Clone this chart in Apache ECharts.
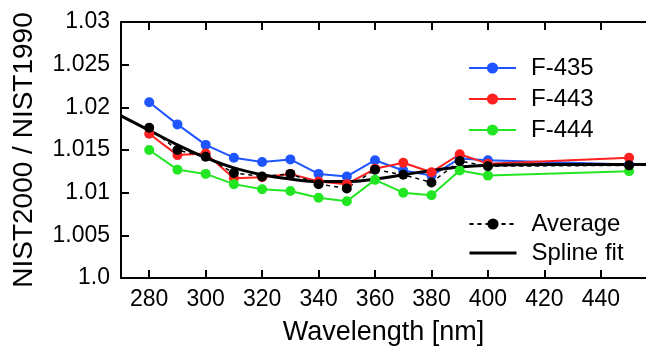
<!DOCTYPE html>
<html><head><meta charset="utf-8">
<script src="https://cdn.jsdelivr.net/npm/echarts@6/dist/echarts.min.js"></script>
<style>html,body{margin:0;padding:0;background:#fff}#c{width:646px;height:351px}</style>
</head><body><div id="c"></div>
<script>
const wavelengths = [280,290,300,310,320,330,340,350,360,370,380,390,400,450];
const f435 = [1.0206,1.0180,1.0156,1.0141,1.0136,1.0139,1.0122,1.0119,1.0138,1.0126,1.0120,1.0140,1.0138,1.0133];
const f443 = [1.0169,1.0144,1.0146,1.0117,1.0118,1.0122,1.0113,1.0110,1.0128,1.0135,1.0124,1.0145,1.0134,1.0141];
const f444 = [1.0150,1.0127,1.0122,1.0110,1.0104,1.0102,1.0094,1.0090,1.0115,1.0100,1.0097,1.0126,1.0120,1.0125];
const average = [1.0176,1.0150,1.0142,1.0123,1.0119,1.0122,1.0110,1.0105,1.0127,1.0121,1.0112,1.0137,1.0131,1.0132];
const splineX = [270,280,290,300,310,320,330,340,350,360,370,380,390,400,420,440,456];
const splineY = [1.0190,1.0173,1.0156,1.0141,1.0129,1.0121,1.0116,1.0113,1.0113,1.0116,1.0121,1.0126,1.0130,1.0132,1.0133,1.0133,1.0133];
const xTicks = [280,300,320,340,360,380,400,420,440];
const yTickLabels = ['1.0','1.005','1.01','1.015','1.02','1.025','1.03'];
const seriesNames = ['F-435','F-443','F-444','Average','Spline fit'];

const FONT = '"Liberation Sans", Arial, sans-serif';
const pair = (xs, ys) => xs.map((x, i) => [x, ys[i]]);

const chart = echarts.init(document.getElementById('c'), null, {renderer: 'canvas'});
const axisLine = {show: true, lineStyle: {color: '#000', width: 2}};
const tick = {show: true, inside: true, length: 8, lineStyle: {color: '#000', width: 2}};

const colored = (name, ys, color) => ({
  name, type: 'line', xAxisIndex: 0, data: pair(wavelengths, ys),
  symbol: 'circle', symbolSize: 10, showSymbol: true,
  lineStyle: {color, width: 2}, itemStyle: {color}
});
const legendText = {fontSize: 24, fontFamily: FONT, color: '#000', padding: [0, 0, 0, 10], lineHeight: 24};

chart.setOption({
  animation: false,
  backgroundColor: '#fff',
  grid: {left: 121, right: 0, top: 22, bottom: 63, containLabel: false},
  xAxis: [
    {type: 'value', min: 270, max: 456, position: 'bottom',
     axisLine, axisTick: Object.assign({}, tick, {customValues: xTicks}),
     axisLabel: {customValues: xTicks, fontSize: 23, fontFamily: FONT, color: '#000', margin: 10},
     splitLine: {show: false},
     name: 'Wavelength [nm]', nameLocation: 'middle', nameGap: 41,
     nameTextStyle: {fontSize: 27, fontFamily: FONT, color: '#000'}},
    {type: 'value', min: 270, max: 456, position: 'top',
     axisLine, axisTick: Object.assign({}, tick, {customValues: xTicks}),
     axisLabel: {show: false}, splitLine: {show: false}}
  ],
  yAxis: {type: 'value', min: 1.0, max: 1.03, interval: 0.005,
    axisLine, axisTick: tick,
    axisLabel: {fontSize: 23, fontFamily: FONT, color: '#000', margin: 11,
      formatter: v => yTickLabels[Math.round((v - 1) / 0.005)]},
    splitLine: {show: false},
    name: 'NIST2000 / NIST1990', nameLocation: 'middle', nameGap: 83, nameRotate: 90,
    nameTextStyle: {fontSize: 28, fontFamily: FONT, color: '#000'}},
  legend: [
    {data: seriesNames.slice(0, 3), orient: 'vertical', left: 463, top: 51,
     itemWidth: 47, itemHeight: 14, itemGap: 7, textStyle: legendText},
    {data: [seriesNames[3], {name: seriesNames[4], itemStyle: {opacity: 0}, lineStyle: {width: 3}}],
     orient: 'vertical', left: 463, top: 207,
     itemWidth: 47, itemHeight: 14, itemGap: 5, textStyle: legendText}
  ],
  series: [
    colored(seriesNames[0], f435, '#1f55ff'),
    colored(seriesNames[1], f443, '#ff2020'),
    colored(seriesNames[2], f444, '#22e622'),
    {name: seriesNames[4], type: 'line', data: pair(splineX, splineY), smooth: 0.4,
     symbol: 'none', showSymbol: false, lineStyle: {color: '#000', width: 3}, itemStyle: {color: '#000'}},
    {name: seriesNames[3], type: 'line', data: pair(wavelengths, average),
     symbol: 'circle', symbolSize: 10, lineStyle: {color: '#000', width: 1.5, type: [4, 4]},
     itemStyle: {color: '#000'}}
  ]
});
</script></body></html>
